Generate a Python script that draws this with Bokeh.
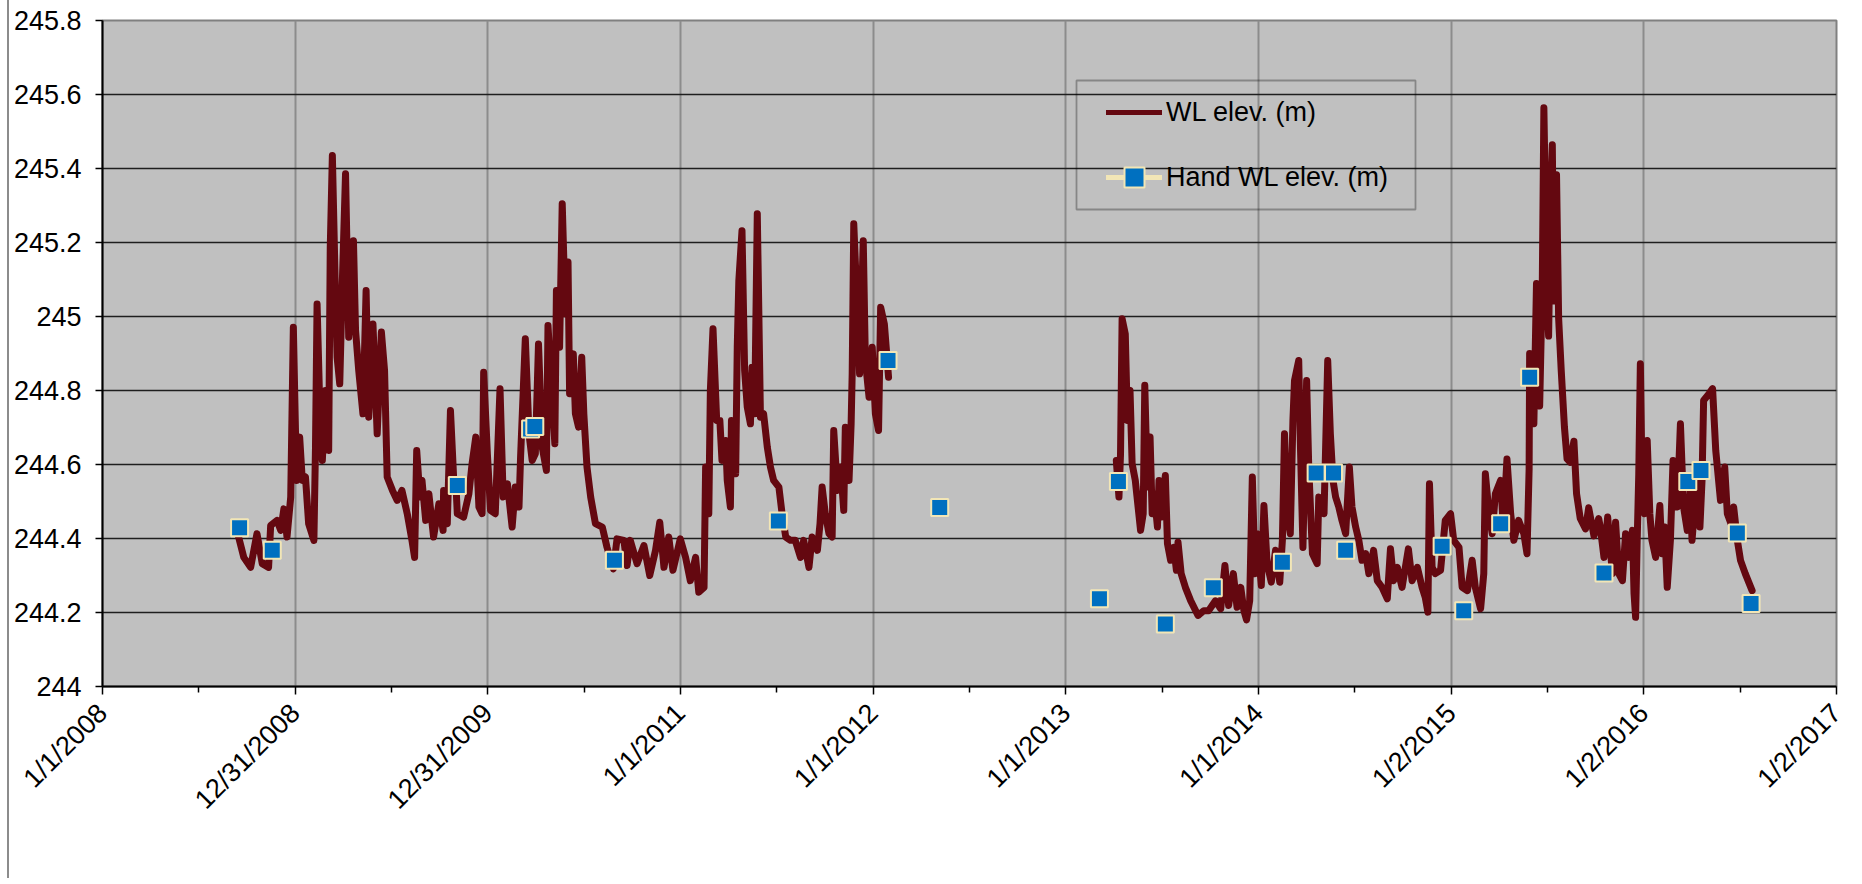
import math
from datetime import datetime, timedelta

from bokeh.plotting import figure
from bokeh.models import (Range1d, FixedTicker, CustomJSTickFormatter, ColumnDataSource,
                          Legend, LegendItem, CDSView, IndexFilter, BoxAnnotation)
from bokeh.embed import file_html
from bokeh.resources import INLINE

# ---------------- data ----------------
# dates are given as days since 1 Jan 2008
ORIGIN = datetime(2008, 1, 1)

# logger record, first deployment (Sep 2008 - Jan 2012)
wl_days_a = [255, 268, 281, 293, 303, 315, 319, 331, 338, 344,
             350, 357, 362, 368, 374, 379, 385, 391, 401, 404,
             407, 413, 417, 423, 429, 432, 436, 442, 445, 450,
             455, 461, 467, 476, 480, 486, 494, 500, 505, 513,
             521, 529, 535, 540, 550, 559, 568, 578, 587, 592,
             596, 602, 606, 613, 619, 628, 638, 646, 647, 654,
             660, 666, 670, 673, 685, 695, 701, 708, 714, 720,
             723, 730, 736, 745, 754, 760, 768, 777, 783, 790,
             793, 802, 809, 815, 821, 827, 834, 842, 845, 851,
             858, 861, 867, 872, 878, 883, 886, 893, 897, 903,
             909, 913, 919, 926, 935, 948, 957, 969, 976, 989,
             995, 1001, 1014, 1027, 1038, 1049, 1057, 1065, 1074, 1082,
             1096, 1106, 1115, 1125, 1131, 1141, 1144, 1150, 1153, 1158,
             1165, 1171, 1175, 1182, 1185, 1191, 1193, 1201, 1204, 1207,
             1213, 1218, 1223, 1229, 1232, 1237, 1242, 1248, 1254, 1261,
             1267, 1273, 1283, 1289, 1296, 1305, 1314, 1324, 1330, 1340,
             1346, 1356, 1361, 1365, 1371, 1378, 1384, 1387, 1394, 1400,
             1406, 1409, 1416, 1420, 1422, 1425, 1432, 1436, 1443, 1447,
             1454, 1460, 1466, 1472, 1476, 1483, 1491]
wl_elev_a = [244.422, 244.349, 244.322, 244.413, 244.332, 244.322, 244.435, 244.449, 244.422, 244.480,
             244.404, 244.512, 244.971, 244.557, 244.674, 244.557, 244.566, 244.440, 244.395, 244.647,
             245.034, 244.710, 244.611, 244.800, 244.638, 245.187, 245.435, 245.052, 244.890, 244.818,
             245.097, 245.386, 244.944, 245.205, 244.962, 244.854, 244.737, 245.070, 244.728, 244.980,
             244.683, 244.958, 244.854, 244.566, 244.530, 244.503, 244.530, 244.467, 244.395, 244.349,
             244.638, 244.512, 244.557, 244.449, 244.521, 244.404, 244.494, 244.422, 244.530, 244.440,
             244.746, 244.566, 244.557, 244.467, 244.458, 244.521, 244.602, 244.674, 244.485, 244.467,
             244.849, 244.629, 244.476, 244.467, 244.805, 244.512, 244.548, 244.431, 244.539, 244.485,
             244.620, 244.940, 244.683, 244.611, 244.629, 244.926, 244.647, 244.584, 244.976, 244.827,
             244.656, 245.070, 244.917, 245.305, 245.007, 245.147, 244.791, 244.899, 244.737, 244.701,
             244.890, 244.737, 244.593, 244.512, 244.440, 244.431, 244.376, 244.318, 244.399, 244.395,
             244.327, 244.395, 244.332, 244.381, 244.300, 244.368, 244.444, 244.322, 244.404, 244.314,
             244.399, 244.349, 244.286, 244.349, 244.255, 244.268, 244.593, 244.467, 244.800, 244.967,
             244.719, 244.719, 244.611, 244.665, 244.557, 244.485, 244.719, 244.575, 244.917, 245.097,
             245.232, 244.854, 244.755, 244.710, 244.863, 244.737, 245.278, 244.728, 244.737, 244.647,
             244.593, 244.557, 244.539, 244.467, 244.404, 244.395, 244.395, 244.349, 244.395, 244.322,
             244.404, 244.368, 244.440, 244.539, 244.467, 244.413, 244.404, 244.692, 244.530, 244.593,
             244.476, 244.701, 244.557, 244.710, 244.845, 245.251, 245.007, 244.845, 245.205, 244.881,
             244.782, 244.917, 244.737, 244.692, 245.025, 244.980, 244.836]

# logger record, second deployment (Apr 2013 - Jul 2016)
wl_days_b = [1923, 1928, 1931, 1934, 1940, 1944, 1949, 1953, 1959, 1969,
             1974, 1977, 1982, 1987, 1991, 1995, 2001, 2004, 2009, 2016,
             2020, 2026, 2032, 2037, 2040, 2046, 2054, 2064, 2078, 2089,
             2098, 2111, 2121, 2129, 2136, 2145, 2152, 2159, 2165, 2170,
             2176, 2181, 2186, 2190, 2198, 2203, 2209, 2217, 2225, 2233,
             2238, 2242, 2247, 2253, 2258, 2261, 2269, 2272, 2277, 2284,
             2288, 2295, 2304, 2307, 2317, 2324, 2329, 2334, 2339, 2345,
             2351, 2358, 2365, 2370, 2377, 2383, 2389, 2396, 2402, 2411,
             2418, 2427, 2437, 2443, 2449, 2456, 2465, 2477, 2484, 2494,
             2503, 2509, 2514, 2517, 2522, 2528, 2538, 2547, 2557, 2563,
             2573, 2579, 2589, 2598, 2604, 2614, 2620, 2623, 2630, 2636,
             2642, 2652, 2657, 2664, 2671, 2677, 2686, 2696, 2702, 2706,
             2707, 2715, 2720, 2726, 2731, 2734, 2740, 2743, 2747, 2750,
             2753, 2758, 2762, 2767, 2773, 2778, 2784, 2791, 2796, 2803,
             2813, 2819, 2829, 2838, 2841, 2848, 2855, 2864, 2870, 2876,
             2883, 2889, 2895, 2902, 2905, 2908, 2911, 2914, 2917, 2920,
             2925, 2930, 2935, 2939, 2946, 2954, 2958, 2963, 2968, 2974,
             2979, 2987, 2993, 2999, 3006, 3012, 3015, 3025, 3030, 3034,
             3037, 3047, 3054, 3060, 3069, 3077, 3082, 3089, 3094, 3101,
             3107, 3116, 3129]
wl_elev_b = [244.611, 244.512, 244.629, 244.994, 244.953, 244.719, 244.800, 244.602, 244.557, 244.422,
             244.467, 244.814, 244.539, 244.674, 244.467, 244.521, 244.431, 244.557, 244.458, 244.570,
             244.386, 244.341, 244.376, 244.314, 244.390, 244.305, 244.268, 244.232, 244.192, 244.205,
             244.205, 244.232, 244.210, 244.327, 244.219, 244.305, 244.214, 244.268, 244.205, 244.180,
             244.232, 244.566, 244.305, 244.413, 244.273, 244.489, 244.332, 244.282, 244.368, 244.282,
             244.395, 244.683, 244.467, 244.413, 244.719, 244.827, 244.881, 244.665, 244.376, 244.827,
             244.593, 244.359, 244.332, 244.512, 244.467, 244.881, 244.683, 244.557, 244.512, 244.485,
             244.449, 244.413, 244.593, 244.485, 244.431, 244.395, 244.341, 244.359, 244.305, 244.368,
             244.286, 244.268, 244.237, 244.372, 244.286, 244.322, 244.268, 244.372, 244.286, 244.322,
             244.268, 244.241, 244.201, 244.548, 244.322, 244.305, 244.314, 244.449, 244.467, 244.395,
             244.376, 244.268, 244.259, 244.341, 244.268, 244.210, 244.305, 244.575, 244.467, 244.413,
             244.521, 244.557, 244.431, 244.615, 244.467, 244.395, 244.449, 244.413, 244.359, 244.587,
             244.900, 244.710, 245.089, 244.758, 245.089, 245.564, 245.042, 244.947, 245.326, 245.464,
             245.042, 245.383, 244.995, 244.852, 244.701, 244.615, 244.606, 244.663, 244.521, 244.454,
             244.426, 244.483, 244.407, 244.454, 244.431, 244.349, 244.458, 244.305, 244.444, 244.305,
             244.286, 244.413, 244.349, 244.422, 244.251, 244.187, 244.395, 244.575, 244.872, 244.575,
             244.467, 244.665, 244.467, 244.395, 244.349, 244.489, 244.359, 244.431, 244.268, 244.395,
             244.611, 244.485, 244.710, 244.485, 244.422, 244.530, 244.395, 244.575, 244.431, 244.557,
             244.773, 244.791, 244.805, 244.638, 244.503, 244.593, 244.467, 244.440, 244.485, 244.395,
             244.341, 244.305, 244.259]

# hand measurements
hand_days = [260, 322, 673, 812, 820, 971, 1282, 1490, 1588, 1891, 1927, 2016, 2107,
             2238, 2302, 2335, 2358, 2541, 2582, 2652, 2707, 2848, 3007, 3032, 3101, 3127]
hand_elev = [244.429, 244.368, 244.543, 244.696, 244.703, 244.341, 244.447, 244.881, 244.484,
             244.237, 244.554, 244.169, 244.267, 244.336, 244.577, 244.577, 244.368, 244.379,
             244.205, 244.440, 244.836, 244.307, 244.554, 244.584, 244.415, 244.224]

# axes
x_tick_labels = ["1/1/2008", "12/31/2008", "12/31/2009", "1/1/2011", "1/1/2012",
                 "1/1/2013", "1/1/2014", "1/2/2015", "1/2/2016", "1/2/2017"]
x_tick_step_days = 365.45
y_ticks = [244.0, 244.2, 244.4, 244.6, 244.8, 245.0, 245.2, 245.4, 245.6, 245.8]

series_labels = ["WL elev. (m)", "Hand WL elev. (m)"]


def to_dates(days):
    return [ORIGIN + timedelta(days=d) for d in days]


EPOCH = datetime(1970, 1, 1)
origin_ms = (ORIGIN - EPOCH).total_seconds() * 1000.0
step_ms = x_tick_step_days * 86400000.0
major_x = [origin_ms + i * step_ms for i in range(len(x_tick_labels))]
minor_x = [origin_ms + (i + 0.5) * step_ms for i in range(len(x_tick_labels) - 1)]

src_a = ColumnDataSource(dict(x=to_dates(wl_days_a), y=wl_elev_a))
src_b = ColumnDataSource(dict(x=to_dates(wl_days_b), y=wl_elev_b))
src_h = ColumnDataSource(dict(x=to_dates(hand_days), y=hand_elev))

FONT = "Liberation Sans"
WL_COLOR = "#640810"
HAND_FILL = "#0070C0"
HAND_EDGE = "#F2E6B6"

p = figure(width=1850, height=878, x_axis_type="datetime",
           x_range=Range1d(origin_ms, major_x[-1]),
           y_range=Range1d(y_ticks[0], y_ticks[-1]),
           output_backend="svg", toolbar_location=None,
           min_border_left=93, min_border_right=23, min_border_top=20, min_border_bottom=192)
p.styles = {"margin-left": "7px", "border-left": "2px solid #8c8c8c"}

p.background_fill_color = "#C0C0C0"
p.border_fill_color = "white"
p.outline_line_color = "#808080"
p.outline_line_width = 2

# x axis
p.xaxis.ticker = FixedTicker(ticks=major_x, minor_ticks=minor_x)
p.xaxis.formatter = CustomJSTickFormatter(
    args=dict(origin=origin_ms, step=step_ms, labels=x_tick_labels),
    code="""
    const i = Math.round((tick - origin) / step);
    return (i >= 0 && i < labels.length) ? labels[i] : "";
    """)
p.xaxis.major_label_orientation = math.pi / 4
p.xaxis.major_tick_out = 8
p.xaxis.major_tick_in = 0
p.xaxis.minor_tick_out = 6
p.xaxis.minor_tick_in = 0
p.xaxis.major_label_standoff = 14

# y axis
p.yaxis.ticker = FixedTicker(ticks=y_ticks, minor_ticks=[])
p.yaxis.formatter = CustomJSTickFormatter(code="return String(Number(tick.toFixed(1)));")
p.yaxis.major_tick_out = 7
p.yaxis.major_tick_in = 0
p.yaxis.minor_tick_line_color = None
p.yaxis.major_label_standoff = 14

for ax in (p.xaxis, p.yaxis):
    ax.major_label_text_font = FONT
    ax.major_label_text_font_size = "27px"
    ax.major_label_text_color = "black"
    ax.axis_line_color = "black"
    ax.axis_line_width = 2
    ax.major_tick_line_color = "black"
    ax.major_tick_line_width = 1.5
    ax.minor_tick_line_color = "black"
    ax.minor_tick_line_width = 1.5

p.xgrid.grid_line_color = "#8c8c8c"
p.xgrid.grid_line_width = 2
p.ygrid.grid_line_color = "#1e1e1e"
p.ygrid.grid_line_width = 1.3

# series
r_a = p.line("x", "y", source=src_a, line_color=WL_COLOR, line_width=7,
             line_join="round", line_cap="round")
r_b = p.line("x", "y", source=src_b, line_color=WL_COLOR, line_width=7,
             line_join="round", line_cap="round")
# legend swatches (a one-point line draws nothing in the plot)
r_wl_key = p.line("x", "y", source=src_a, view=CDSView(filter=IndexFilter(indices=[0])),
                  line_color=WL_COLOR, line_width=5, line_cap="round")
r_hline = p.line("x", "y", source=src_h, view=CDSView(filter=IndexFilter(indices=[0])),
                 line_color=HAND_EDGE, line_width=5, line_cap="round")
r_h = p.scatter("x", "y", source=src_h, marker="square", size=17,
                fill_color=HAND_FILL, line_color=HAND_EDGE, line_width=2)

# legend frame (screen units, relative to the plot frame)
p.add_layout(BoxAnnotation(left=974, right=1313, bottom=477, top=606,
                           left_units="screen", right_units="screen",
                           bottom_units="screen", top_units="screen",
                           fill_alpha=0, line_color="black", line_width=1.8))

legend = Legend(items=[LegendItem(label=series_labels[0], renderers=[r_wl_key]),
                       LegendItem(label=series_labels[1], renderers=[r_hline, r_h])],
                location=(1004, 484))
legend.label_text_font = FONT
legend.label_text_font_size = "27px"
legend.label_text_color = "black"
legend.label_height = 50
legend.glyph_height = 50
legend.glyph_width = 56
legend.label_standoff = 4
legend.spacing = 15
legend.padding = 10
legend.margin = 0
legend.border_line_color = None
legend.background_fill_alpha = 0
p.add_layout(legend)

open("out.html", "w").write(file_html(p, INLINE))
